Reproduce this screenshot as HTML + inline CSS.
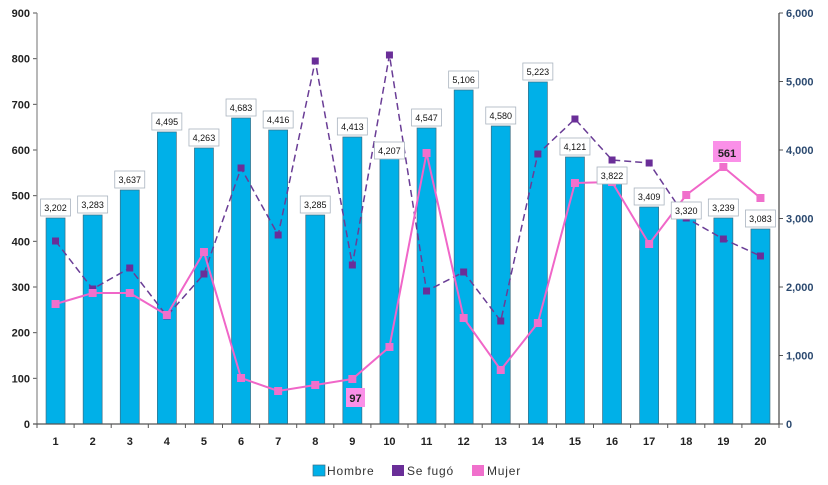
<!DOCTYPE html>
<html><head><meta charset="utf-8"><style>
html,body{margin:0;padding:0;background:#fff;width:828px;height:485px;overflow:hidden}
svg{display:block;font-family:"Liberation Sans",sans-serif}
</style></head><body>
<svg id="c" width="828" height="485" xmlns="http://www.w3.org/2000/svg"></svg>
<script>
const s=document.getElementById('c');let h='';
const X0=37,X1=779,Y0=424,Y9=13;
const cx=i=>X0+(X1-X0)/20*(i+0.5);
// left axis
for(let v=0;v<=900;v+=100){const y=Y0-(Y0-Y9)*v/900;
h+=`<line x1="33" y1="${y}" x2="${X0}" y2="${y}" stroke="#555"/>`;
h+=`<text x="30" y="${y+4}" text-anchor="end" font-size="11" font-weight="bold" fill="#222">${v}</text>`;}
for(let v=0;v<=6000;v+=1000){const y=Y0-(Y0-Y9)*v/6000;
h+=`<line x1="${X1}" y1="${y}" x2="${X1+4}" y2="${y}" stroke="#555"/>`;
h+=`<text x="${X1+7}" y="${y+4}" font-size="11" font-weight="bold" fill="#2c4a70">${v.toLocaleString('en-US')}</text>`;}
const bt=[218,215,190,132,148,118,130,215,137,152,128,90,126,82,157,178,207,212,218,229];
const lb=["3,202","3,283","3,637","4,495","4,263","4,683","4,416","3,285","4,413","4,207","4,547","5,106","4,580","5,223","4,121","3,822","3,409","3,320","3,239","3,083"];
const lo=[0,0,0,0,0,0,0,0,0,9,0,0,0,0,0,8,0,9,0,0];
for(let i=0;i<20;i++){const x=cx(i);
h+=`<rect x="${x-9.5}" y="${bt[i]}" width="19" height="${Y0-bt[i]}" fill="#00b0e8" stroke="#3d6e84" stroke-width="0.7"/>`;}
// axes
h+=`<line x1="${X0}" y1="${Y9}" x2="${X0}" y2="${Y0}" stroke="#888" stroke-width="1.2"/>`;
h+=`<line x1="${X1}" y1="${Y9}" x2="${X1}" y2="${Y0}" stroke="#444" stroke-width="1.2"/>`;
h+=`<line x1="33" y1="${Y0}" x2="${X1}" y2="${Y0}" stroke="#555" stroke-width="1.2"/>`;
for(let i=0;i<=20;i++){const x=X0+(X1-X0)/20*i;h+=`<line x1="${x}" y1="${Y0}" x2="${x}" y2="${Y0+4}" stroke="#555"/>`;}
for(let i=0;i<20;i++)h+=`<text x="${cx(i)}" y="445" text-anchor="middle" font-size="11" font-weight="bold" fill="#222">${i+1}</text>`;
const pu=[241,289,268,316,274,168,235,61,265,55,291,272,321,154,119,160,163,218,239,256];
const pk=[304,293,293,315,252,378,391,385,379,347,153,318,370,323,183,182,244,195,167,198];
h+=`<polyline fill="none" stroke="#6a3d96" stroke-width="1.5" stroke-dasharray="7,4" points="${pu.map((y,i)=>cx(i)+','+y).join(' ')}"/>`;
h+=`<polyline fill="none" stroke="#f066c8" stroke-width="2" points="${pk.map((y,i)=>cx(i)+','+y).join(' ')}"/>`;
pu.forEach((y,i)=>h+=`<rect x="${cx(i)-3.5}" y="${y-3.5}" width="7" height="7" fill="#6a2e98"/>`);
pk.forEach((y,i)=>h+=`<rect x="${cx(i)-4}" y="${y-4}" width="8" height="8" fill="#f070cc"/>`);
for(let i=0;i<20;i++){const x=cx(i),y=bt[i]-19+lo[i];
h+=`<rect x="${x-15}" y="${y}" width="30" height="17" fill="#fff" stroke="#aab4bf" stroke-width="0.8"/>`;
h+=`<text x="${x}" y="${y+12}" text-anchor="middle" font-size="9" fill="#111">${lb[i]}</text>`;}
h+=`<rect x="346" y="388" width="19" height="19" fill="#fa90e8"/><text x="355.5" y="402" text-anchor="middle" font-size="11" font-weight="bold" fill="#222">97</text>`;
h+=`<rect x="713" y="141" width="28" height="21" fill="#fa90e8"/><text x="727" y="157" text-anchor="middle" font-size="11" font-weight="bold" fill="#222">561</text>`;
// legend
h+=`<rect x="313" y="465" width="12" height="11" fill="#00b0e8" stroke="#3d6e84" stroke-width="0.7"/><text x="327" y="475" font-size="12" fill="#333" letter-spacing="0.8">Hombre</text>`;
h+=`<rect x="392" y="465" width="12" height="11" fill="#6a2e98"/><text x="407" y="475" font-size="12" fill="#333" letter-spacing="0.8">Se fugó</text>`;
h+=`<rect x="472" y="465" width="12" height="11" fill="#f070cc"/><text x="487" y="475" font-size="12" fill="#333" letter-spacing="0.8">Mujer</text>`;
s.innerHTML=h;
</script>
</body></html>
